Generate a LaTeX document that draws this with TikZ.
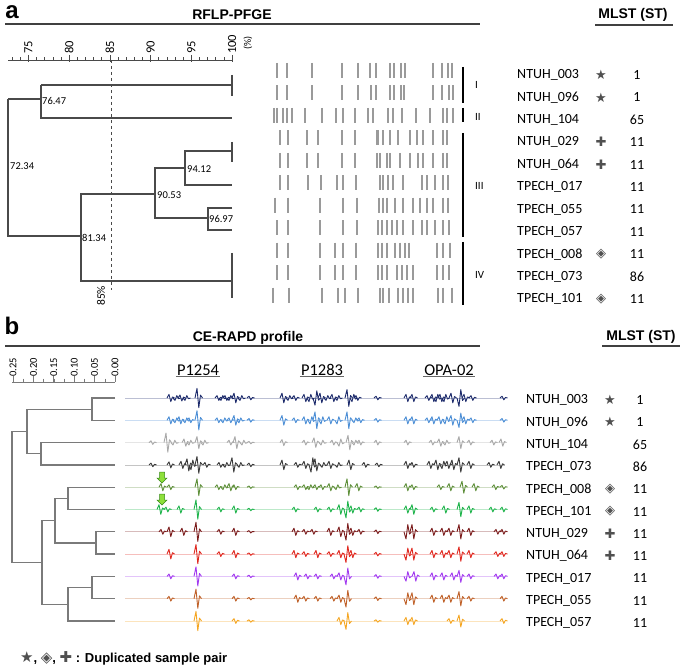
\documentclass[tikz,border=0pt]{standalone}
\usepackage{fontspec}
\setmainfont{Carlito}
\newfontfamily\arialf{Liberation Sans}
\newfontfamily\djv{DejaVu Sans}
\definecolor{symgray}{HTML}{505050}
\definecolor{dga}{HTML}{4a4a4a}
\definecolor{dgb}{HTML}{7a7a7a}
\definecolor{bandc}{HTML}{9a9a9a}
\definecolor{trA}{HTML}{1C2A6B}
\definecolor{trB}{HTML}{4D8FD6}
\definecolor{trC}{HTML}{A9A9A9}
\definecolor{trD}{HTML}{3A3A3A}
\definecolor{trE}{HTML}{5E8F3A}
\definecolor{trF}{HTML}{1FB44C}
\definecolor{trG}{HTML}{7B1C1C}
\definecolor{trH}{HTML}{E0281F}
\definecolor{trI}{HTML}{A23AF0}
\definecolor{trJ}{HTML}{C0622A}
\definecolor{trK}{HTML}{F5A623}
\definecolor{garrowfill}{HTML}{8EE03A}
\definecolor{garrowline}{HTML}{3A8A1A}
\tikzset{
  lbl/.style={anchor=west, inner sep=0pt, font=\fontsize{14}{16}\selectfont},
  num/.style={anchor=center, inner sep=0pt, font=\fontsize{14}{16}\selectfont},
  sym/.style={anchor=center, inner sep=0pt, text=symgray, font=\djv\fontsize{13}{15}\selectfont},
  ttl/.style={inner sep=0pt, font=\arialf\bfseries\fontsize{14}{16}\selectfont},
  panel/.style={inner sep=0pt, font=\arialf\bfseries\fontsize{24}{26}\selectfont},
  dval/.style={anchor=west, inner sep=0pt, font=\fontsize{10.5}{12}\selectfont},
  axlbl/.style={anchor=west, rotate=90, inner sep=0pt},
  dga line/.style={draw=dga, line width=1.1pt},
  dgb line/.style={draw=dgb, line width=1.3pt},
  band/.style={draw=bandc, line width=1.4pt},
  pk/.style={line width=0.9pt, line join=round},
  primer/.style={inner sep=1pt, font=\fontsize{16.5}{18}\selectfont},
  roman/.style={anchor=west, inner sep=0pt, font=\fontsize{11}{13}\selectfont},
}
\newcommand\ceTrace[3]{%
  \draw[#2!30, line width=0.7pt] (125,#1) -- (505,#1);
  \foreach \px/\pb in {#3}{%
    \pgfmathsetmacro\pa{1.2*(\pb)}%
    \draw[#2, pk] ({\px-3},#1) -- ({\px-1},{#1-(\pa)}) -- ({\px+0.8},{#1+(\pa)}) -- ({\px+2.5},{#1-0.3*(\pa)}) -- ({\px+4.5},#1);}%
}
\newcommand\gArrow[3]{%
  \filldraw[fill=garrowfill, draw=garrowline, line width=0.5pt] ({#1-2.5},#2) -- ({#1+2.5},#2) -- ({#1+2.5},{#2+6}) -- ({#1+5},{#2+6}) -- (#1,{#2+11}) -- ({#1-5},{#2+6}) -- ({#1-2.5},{#2+6}) -- cycle;%
  \coordinate (#3) at (#1,#2);%
}
\begin{document}
\begin{tikzpicture}[x=1pt, y=-1pt]
\useasboundingbox (0,0) rectangle (685,668);
\fill[white] (0,0) rectangle (685,668);

% ================= Panel a =================
\node[panel] (pa) at (12,12) {a};
\node[ttl] (ta) at (232,15) {RFLP-PFGE};
\draw[line width=1.2pt, draw=black!75] (5,24) coordinate (la1) -- (480,24) coordinate (la2);
\node[ttl] (mla) at (633,15) {MLST (ST)};
\draw[line width=1.2pt, draw=black!75] (595,25) coordinate (ua1) -- (673,25) coordinate (ua2);

% scale axis a
\draw[dga, line width=0.8pt] (8,60) coordinate (axa1) -- (232,60) coordinate (axa2);
\foreach \v in {73,...,100}{
  \pgfmathsetmacro\xx{232-(100-\v)*8.14}
  \draw[dga, line width=0.6pt] (\xx,57.5) -- (\xx,61);
}
\foreach \v in {75,80,...,100}{
  \pgfmathsetmacro\xx{232-(100-\v)*8.14}
  \draw[dga, line width=0.7pt] (\xx,55) -- (\xx,62);
  \node[axlbl, font=\fontsize{12.5}{14}\selectfont] (ax\v) at (\xx,54) {\v};
}
\node[axlbl, font=\fontsize{10}{12}\selectfont] (pct) at (248,50) {(\%)};
\draw[dga, dashed, line width=0.6pt] (111,60) -- (111,290);
\node[axlbl, font=\fontsize{11.5}{13}\selectfont] (p85) at (101,306) {85\%};

% dendrogram a
\draw[dga line] (41,85) -- (232,85);
\draw[dga line] (232,75) -- (232,96);
\draw[dga line] (41,85) -- (41,118) -- (232,118);
\draw[dga line] (8,99) -- (41,99);
\draw[dga line] (8,99) -- (8,236) -- (81,236);
\draw[dga line] (155,194) -- (81,194) -- (81,281) -- (232,281);
\draw[dga line] (232,253) -- (232,298);
\draw[dga line] (185,168) -- (155,168) -- (155,218) -- (208,218);
\draw[dga line] (232,151) -- (185,151) -- (185,185) -- (232,185);
\draw[dga line] (232,142) -- (232,162);
\draw[dga line] (232,208) -- (208,208) -- (208,230) -- (232,230);
\node[dval] (d1) at (42,101) {76.47};
\node[dval] (d2) at (10,166) {72.34};
\node[dval] (d3) at (82,238) {81.34};
\node[dval] (d4) at (157,195) {90.53};
\node[dval] (d5) at (187,169) {94.12};
\node[dval] (d6) at (209,219) {96.97};

% gel bands
\foreach \r/\xs in {
 0/{277,287,312,342,358,370,376,390,394,401,405,433,442,448,452},
 1/{277,287,312,342,358,371,376,390,394,401,404,433,442,449,453},
 2/{274,277,283,287,292,305,322,336,343,355,368,373,388,393,402,416,430,443,447,453},
 3/{280,288,307,318,342,355,377,378,383,390,398,410,417,423,433,443,447},
 4/{280,288,307,318,342,355,377,380,387,390,400,410,418,423,433,443,447},
 5/{280,288,308,321,337,343,356,380,383,388,393,403,422,427,435,443,448},
 6/{275,288,320,343,357,379,383,387,395,403,413,420,427,433,443,448},
 7/{277,288,320,343,357,378,382,387,392,397,403,413,422,427,435,443,449},
 8/{277,288,320,335,343,356,378,382,387,395,400,405,409,437,443,450},
 9/{277,288,320,335,343,356,378,382,387,397,402,407,413,437,443,449},
 10/{273,289,322,338,345,358,380,383,389,398,403,408,413,438,443,452}}{
  \pgfmathsetmacro\yc{70.5+22.45*\r}
  \foreach \x in \xs {\draw[band] (\x,{\yc-7.5}) -- (\x,{\yc+7.5});}
}
% cluster bars
\draw[line width=2.2pt] (463,67) -- (463,103);
\draw[line width=2.2pt] (463,108) -- (463,122);
\draw[line width=2.2pt] (463,133) -- (463,237);
\draw[line width=2.2pt] (463,242) -- (463,305);
\node[roman] (r1) at (475,85) {I};
\node[roman] (r2) at (475,117) {II};
\node[roman] (r3) at (475,186) {III};
\node[roman] (r4) at (475,275) {IV};

% labels a
\foreach \i/\nm/\sy/\st in {0/NTUH\_003/★/1, 1/NTUH\_096/★/1, 2/NTUH\_104//65, 3/NTUH\_029/✚/11, 4/NTUH\_064/✚/11, 5/TPECH\_017//11, 6/TPECH\_055//11, 7/TPECH\_057//11, 8/TPECH\_008/◈/11, 9/TPECH\_073//86, 10/TPECH\_101/◈/11}{
  \pgfmathsetmacro\yy{75+22.4*\i}
  \node[lbl] (na\i) at (517,\yy) {\nm};
  \node[sym] (sa\i) at (601,\yy) {\sy};
  \node[num] (ma\i) at (637,\yy) {\st};
}

% ================= Panel b =================
\node[panel] (pb) at (12,326) {b};
\node[ttl] (tb) at (248,338) {CE-RAPD profile};
\draw[line width=1.2pt, draw=black!75] (5,346) -- (480,346);
\node[ttl] (mlb) at (641,337) {MLST (ST)};
\draw[line width=1.2pt, draw=black!75] (602,346) -- (680,346);

% scale axis b
\draw[dgb, line width=0.8pt] (12,382) -- (115,382);
\foreach \k in {0,...,10}{
  \pgfmathsetmacro\xx{115-\k*10.2}
  \draw[dgb, line width=0.6pt] (\xx,378.5) -- (\xx,382);
}
\foreach \k/\lab in {0/0.00,1/0.05,2/0.10,3/0.15,4/0.20,5/0.25}{
  \pgfmathsetmacro\xx{115-\k*20.4}
  \draw[dgb, line width=0.7pt] (\xx,376) -- (\xx,382);
  \node[axlbl, font=\fontsize{10.5}{12}\selectfont] (bx\k) at (\xx,377) {\lab};
}

% dendrogram b
\draw[dgb line] (115,398) -- (92,398) -- (92,420.3) -- (115,420.3);
\draw[dgb line] (27,409.2) -- (92,409.2);
\draw[dgb line] (115,442.6) -- (41,442.6) -- (41,464.9) -- (115,464.9);
\draw[dgb line] (41,453.8) -- (27,453.8);
\draw[dgb line] (27,409.2) -- (27,453.8);
\draw[dgb line] (27,431.5) -- (12,431.5) -- (12,562.5) -- (42,562.5);
\draw[dgb line] (115,487.2) -- (68,487.2) -- (68,509.5) -- (115,509.5);
\draw[dgb line] (115,531.8) -- (96,531.8) -- (96,554.1) -- (115,554.1);
\draw[dgb line] (68,498.4) -- (55,498.4) -- (55,543) -- (96,543);
\draw[dgb line] (115,576.4) -- (92,576.4) -- (92,598.7) -- (115,598.7);
\draw[dgb line] (92,587.5) -- (68,587.5) -- (68,621) -- (115,621);
\draw[dgb line] (55,520.7) -- (42,520.7) -- (42,604.3) -- (68,604.3);

% primer headings
\node[primer] (pr1) at (198,370) {P1254};
\node[primer] (pr2) at (322,370) {P1283};
\node[primer] (pr3) at (449,370) {OPA-02};
\foreach \p in {pr1,pr2,pr3}{\draw[black!60, line width=0.8pt] (\p.south west) -- (\p.south east);}

% traces
\ceTrace{398}{trA}{170/3,176/-2,181/2.5,186/-2,198/8,218/2,222/-2,226/2,230/-2,235/4,241/-2,250/1.5,283/4,289/-2,295/2,305/3,310/-3,316/-6,321/4,327/-2,333/3,338/-2,348/7,353/-3,357/2,377/1.5,407/3,413/3,428/2,433/3,437/-3,441/3,445/-3,452/4,460/-7,465/3,472/2,503/1.5}
\ceTrace{420.3}{trB}{170/3,176/-2,180/3,186/-2,190/2,198/8,218/2,224/-2,230/2,235/4,240/-2,250/1.5,283/4,295/2,305/3,311/-3,316/7,322/-3,330/3,338/-3,348/7,355/-2,360/2,377/1.5,407/3,413/3,428/2,433/3,440/3,446/-3,452/4,460/-6,465/3,472/2,503/1.5}
\ceTrace{442.6}{trC}{152/1.5,167/8,174/-2,185/3,190/-2,198/5,204/-2,230/2,236/5,243/-2,250/1,283/2.5,305/2,315/4,322/-2,333/2,340/-3,349/6,355/-2,360/2,377/2,407/2,432/2,440/3,446/-2,460/5,470/2,493/2,502/3}
\ceTrace{464.9}{trD}{152/1.5,170/2.5,182/3,188/5,192/-4,198/7,206/2,220/2,226/-2,233/6,240/-2,250/1.5,283/4,297/2,305/3,312/-6,316/5,323/-2,330/3,338/-2,350/4,365/2,378/1.5,407/3,413/2,430/3,437/4,443/-3,448/3,453/4,460/6,470/3,490/2,500/3}
\ceTrace{487.2}{trE}{162/3,170/2,198/7,218/2,224/-2,230/3,235/2,250/1,297/2,305/2,310/-2,316/2,322/2,330/3,337/-2,348/7,358/3,377/1,407/3,413/2,440/2,450/3,463/5,475/3,495/2,503/1.5}
\ceTrace{509.5}{trF}{160/4,167/2,180/3,197/8,220/2,235/3,250/1,295/2,317/2,330/2,340/4,347/-7,352/3,360/2,377/1.5,407/3,413/4,433/2,445/3,460/6,470/3,492/2,503/2}
\ceTrace{531.8}{trG}{162/2,170/4,183/3,197/8,220/2,235/3,250/1,295/3,305/2,313/2,330/3,340/4,347/-7,352/3,360/2,377/1.5,407/-6,413/6,433/3,443/3,450/3,460/6,470/3,497/2,503/2}
\ceTrace{554.1}{trH}{170/4,197/8,220/2,235/3,250/1,295/3,305/2,317/3,330/2,340/3,347/-7,352/3,377/1.5,407/-5,413/5,433/3,443/3,450/3,460/6,470/3,497/2,503/2}
\ceTrace{576.4}{trI}{170/2,197/8,235/2,250/1,297/3,307/2,317/2,333/2,340/3,347/-7,377/1.5,407/-4,415/4,433/3,443/3,453/3,460/5,470/2,497/2,503/2}
\ceTrace{598.7}{trJ}{170/2,197/8,235/2,250/1,297/3,305/2,317/2,333/2,340/3,347/-7,377/1.5,407/-5,413/5,433/3,443/3,450/3,460/6,470/2,503/2}
\ceTrace{621}{trK}{197/8,235/2,250/1,340/3,347/-7,377/1,407/3,413/3,450/2,460/5,503/2}

\gArrow{162}{472}{ga1}
\gArrow{162}{494}{ga2}

% labels b
\foreach \i/\nm/\sy/\st in {0/NTUH\_003/★/1, 1/NTUH\_096/★/1, 2/NTUH\_104//65, 3/TPECH\_073//86, 4/TPECH\_008/◈/11, 5/TPECH\_101/◈/11, 6/NTUH\_029/✚/11, 7/NTUH\_064/✚/11, 8/TPECH\_017//11, 9/TPECH\_055//11, 10/TPECH\_057//11}{
  \pgfmathsetmacro\yy{400+22.3*\i}
  \node[lbl] (nb\i) at (526,\yy) {\nm};
  \node[sym] (sb\i) at (610,\yy) {\sy};
  \node[num] (mb\i) at (640,\yy) {\st};
}

% legend
\node[anchor=west, inner sep=0pt, font=\arialf\bfseries\fontsize{13}{15}\selectfont] (leg) at (20,658) {{\djv\fontsize{15}{15}\selectfont\color{symgray}★}, {\djv\fontsize{15}{15}\selectfont\color{symgray}◈}, {\djv\fontsize{15}{15}\selectfont\color{symgray}✚} : Duplicated sample pair};
\end{tikzpicture}
\end{document}
